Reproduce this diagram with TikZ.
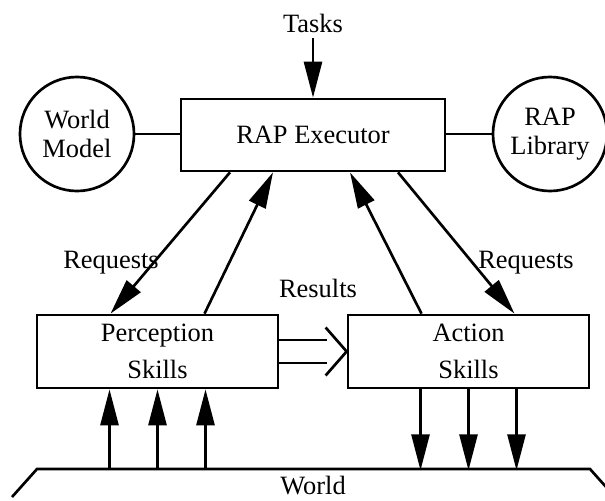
\documentclass[tikz,border=0pt]{standalone}
\usepackage{fontspec}
\setmainfont{Liberation Serif}
\usetikzlibrary{arrows.meta,calc}

\begin{document}
\begin{tikzpicture}[x=0.025cm,y=-0.025cm,
    font=\fontsize{18.8}{20.4}\selectfont,
    line/.style={line width=1.9pt},
    arr/.style={line width=1.9pt,-{Triangle[length=25.6pt,width=12.8pt]}},
    box/.style={draw,line width=1.9pt,align=center},
    blob/.style={draw,circle,line width=1.9pt,align=center,inner sep=0pt,minimum size=2.85cm}]
    \useasboundingbox (0,0) rectangle (605,500);

    \node [box,minimum width=6.6cm,minimum height=1.8cm] (exec) at (313,135) {RAP Executor};
    \node [blob] (wmodel) at (77,134) {World\\Model};
    \node [blob] (rlib) at (550,134) {RAP\\Library};
    \node [box,minimum width=6.025cm,minimum height=1.825cm] (perc) at (157.5,351.5) {Perception\\[5.7pt]Skills};
    \node [box,minimum width=6.025cm,minimum height=1.825cm] (act) at (468.5,351.5) {Action\\[5.7pt]Skills};
    \node [inner sep=4pt] (tasks) at (313,23) {Tasks};

    \draw [arr] (tasks.south) -- (exec.north);
    \draw [line] (wmodel.east) -- (wmodel.east -| exec.west);
    \draw [line] (rlib.west) -- (rlib.west -| exec.east);

    \draw [arr] ($(exec.south)+(-83,0)$) -- ($(perc.north)+(-47,0)$);
    \draw [arr] ($(perc.north)+(47,0)$) -- ($(exec.south)+(-40,0)$);
    \draw [arr] ($(act.north)+(-47,0)$) -- ($(exec.south)+(37,0)$);
    \draw [arr] ($(exec.south)+(85,0)$) -- ($(act.north)+(46,0)$);

    \node [anchor=base] (lreq) at (111,268) {Requests};
    \node [anchor=base] (res) at (318,297) {Results};
    \node [anchor=base] (rreq) at (526,268) {Requests};

    % double arrow
    \draw [line] ($(perc.east)+(0,-11.5)$) -- ($(act.west)+(-20,-11.5)$);
    \draw [line] ($(perc.east)+(0,11.5)$) -- ($(act.west)+(-20,11.5)$);
    \draw [line] ($(act.west)+(-21,-24)$) -- (act.west) -- ($(act.west)+(-21,24)$);

    % world
    \draw [line] (12,497) -- (37,469) -- (590,469) -- (615,497);
    \node [anchor=base] (world) at (313,494) {World};
    \foreach \dx in {-48,0,48} {
        \draw [arr] (perc.south) ++(\dx,81) -- ++(0,-81);
        \draw [arr] (act.south) ++(\dx,0) -- ++(0,81);
    }
\end{tikzpicture}
\end{document}
